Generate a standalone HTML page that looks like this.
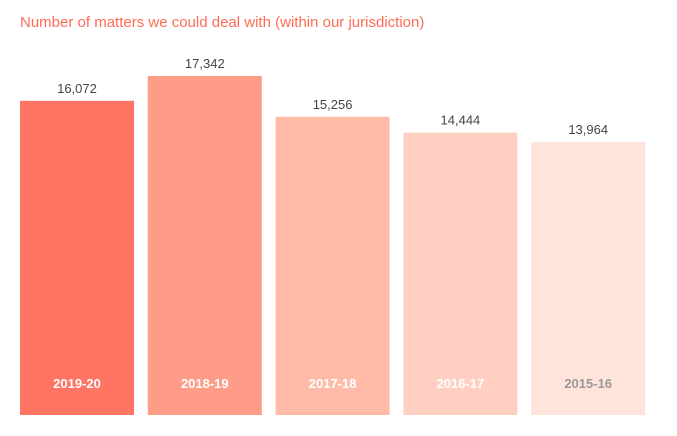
<!DOCTYPE html>
<html><head><meta charset="utf-8"><style>
body{margin:0;background:#fff;width:677px;height:431px;overflow:hidden;font-family:"Liberation Sans",sans-serif}
</style></head><body>
<svg width="677" height="431">
<text x="20" y="27" font-size="15" fill="#ff6b57">Number of matters we could deal with (within our jurisdiction)</text>
<g id="bars"></g>
</svg>
<script>
const categories=["2019-20","2018-19","2017-18","2016-17","2015-16"];
const values=[16072,17342,15256,14444,13964];
const valueLabels=["16,072","17,342","15,256","14,444","13,964"];
const colors=["#ff7462","#ff9c88","#ffbba8","#ffcfc1","#ffe4dc"];
const labelColors=["#fff","#fff","#fff","#fff","#999"];
const base=415, scale=339/17342;
function x(i){return 20+i*127.8;}
function y(v){return base-v*scale;}
const g=document.getElementById('bars'),NS="http://www.w3.org/2000/svg";
categories.forEach((c,i)=>{
 const r=document.createElementNS(NS,'rect');
 
 
 r.setAttribute('x',x(i));r.setAttribute('y',y(values[i]));
 r.setAttribute('width',114);r.setAttribute('height',base-y(values[i]));
 r.setAttribute('fill',colors[i]);g.appendChild(r);
 const t=document.createElementNS(NS,'text');
 
 
 t.setAttribute('x',x(i)+57);t.setAttribute('y',y(values[i])-8);
 t.setAttribute('text-anchor','middle');t.setAttribute('font-size','13');t.setAttribute('fill','#444');
 t.textContent=valueLabels[i];g.appendChild(t);
 const l=document.createElementNS(NS,'text');
 
 
 l.setAttribute('x',x(i)+57);l.setAttribute('y',388);
 l.setAttribute('text-anchor','middle');l.setAttribute('font-size','13');l.setAttribute('font-weight','bold');l.setAttribute('fill',labelColors[i]);
 l.textContent=c;g.appendChild(l);
});
</script>
</body></html>
